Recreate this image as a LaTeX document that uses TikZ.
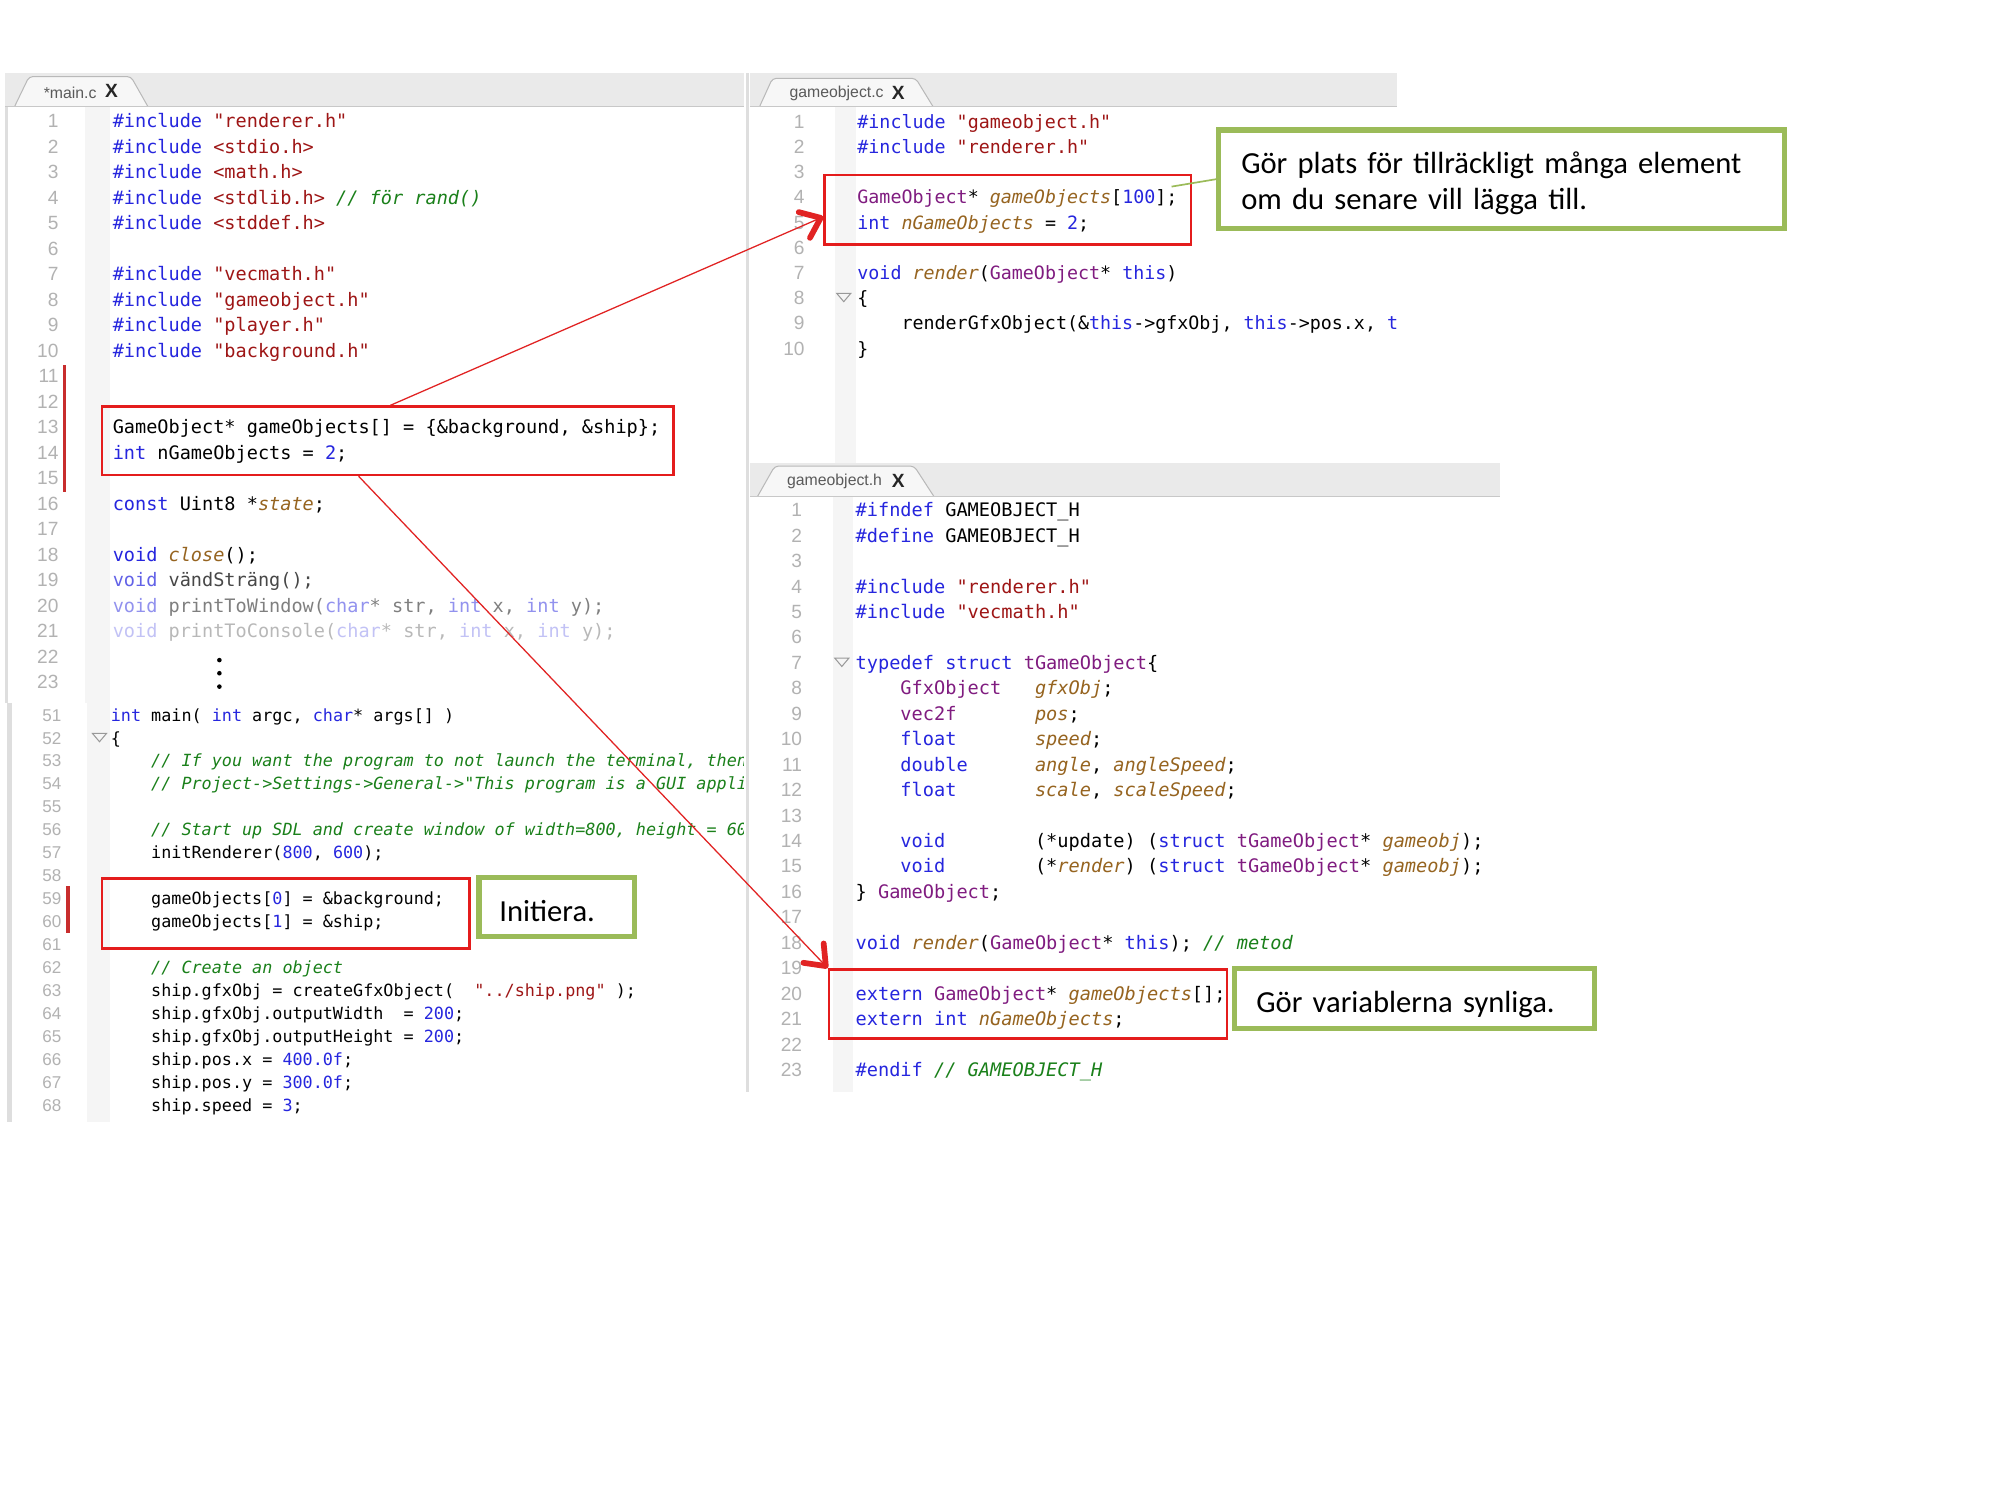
\documentclass[tikz,border=0pt]{standalone}
\usepackage{fontspec}
\usepackage{tikz}
\usetikzlibrary{arrows.meta}

\newfontfamily\codefont{DejaVu Sans Mono}
\newfontfamily\tabfont{Liberation Sans}
\newfontfamily\notefont{Carlito}
\frenchspacing

\definecolor{kwblue}{RGB}{38,38,222}
\definecolor{strred}{RGB}{158,22,22}
\definecolor{comgreen}{RGB}{26,128,26}
\definecolor{typpurple}{RGB}{128,28,128}
\definecolor{varbrown}{RGB}{150,100,32}
\definecolor{lnumgray}{RGB}{178,178,178}
\definecolor{barfill}{RGB}{234,234,234}
\definecolor{barline}{RGB}{200,200,200}
\definecolor{tabfill}{RGB}{247,247,247}
\definecolor{tabline}{RGB}{185,185,185}
\definecolor{tabgray}{RGB}{90,90,90}
\definecolor{gutterfill}{RGB}{245,245,245}
\definecolor{panelline}{RGB}{222,222,222}
\definecolor{boxred}{RGB}{228,28,28}
\definecolor{arrowred}{RGB}{225,35,35}
\definecolor{notegreen}{RGB}{155,187,89}
\definecolor{changered}{RGB}{200,45,45}

% syntax colours
\newcommand{\ckw}[1]{\textcolor{kwblue}{#1}}
\newcommand{\cstr}[1]{\textcolor{strred}{#1}}
\newcommand{\ccom}[1]{\textcolor{comgreen}{\itshape #1}}
\newcommand{\ctyp}[1]{\textcolor{typpurple}{#1}}
\newcommand{\cvar}[1]{\textcolor{varbrown}{\itshape #1}}

\begin{document}
\begin{tikzpicture}[x=1pt, y=-1pt,
    codeA/.style={anchor=base west, inner sep=0pt, font=\codefont\fontsize{14.55}{16}\selectfont},
    codeB/.style={anchor=base west, inner sep=0pt, font=\codefont\fontsize{13.15}{15}\selectfont},
    codeC/.style={anchor=base west, inner sep=0pt, font=\codefont\fontsize{14.37}{16}\selectfont},
    codeD/.style={anchor=base west, inner sep=0pt, font=\codefont\fontsize{14.6}{16}\selectfont},
    lnum/.style={anchor=base east, inner sep=0pt, text=lnumgray, font=\tabfont\fontsize{15}{16}\selectfont},
    lnumsmall/.style={lnum, font=\tabfont\fontsize{13.4}{15}\selectfont},
    tabshape/.style={fill=tabfill, draw=tabline, line width=0.8, rounded corners=3},
    tablabel/.style={inner sep=0pt, text=tabgray, font=\tabfont\fontsize{12.4}{14}\selectfont},
    tabclose/.style={inner sep=0pt, text=black!85, font=\tabfont\bfseries\fontsize{15}{15}\selectfont},
    foldmark/.style={draw=black!40, line width=0.8},
    redbox/.style={draw=boxred, line width=2, inner sep=0pt},
    notebox/.style={draw=notegreen, line width=4, fill=white, inner xsep=16, align=left,
                    font=\notefont\fontsize{24}{28.7}\selectfont},
    noteline/.style={draw=notegreen, line width=1.3},
    redarrow/.style={draw=arrowred, line width=1,
                     -{Straight Barb[length=14pt, width=22pt, line width=4.5pt, round]}}]

\useasboundingbox[fill=white] (0,0) rectangle (1568,1176);

% editor frames
\fill[barfill] (4,57.5) rectangle (583,83.6);
\fill[barfill] (588,57.5) rectangle (1095.3,83.6);
\fill[barfill] (588,363.3) rectangle (1176,389.4);
\fill[gutterfill] (67,83.6) rectangle (86,551);
\fill[gutterfill] (68,551) rectangle (86,879.4);
\fill[gutterfill] (655,83.6) rectangle (671,363.3);
\fill[gutterfill] (653,389.4) rectangle (669,856);
\draw[panelline, line width=2.6] (5.3,83.6) -- (5.3,551);
\draw[panelline, line width=3.4] (7.4,551) -- (7.4,879.4);
\draw[panelline, line width=2.5] (586,57.5) -- (586,856);

% tabs
\draw[tabshape] (11.4,83.6) -- (22.8,60) -- (102.6,60) -- (116,83.6);
\draw[tabshape] (595.5,83.6) -- (605.6,61.4) -- (717.9,61.4) -- (731.5,83.6);
\draw[tabshape] (593.8,389.4) -- (607.4,365.4) -- (716.7,365.4) -- (732.3,389.4);
\draw[barline, line width=1] (4,83.6) -- (583,83.6);
\draw[barline, line width=1] (588,83.6) -- (1095.3,83.6);
\draw[barline, line width=1] (588,389.4) -- (1176,389.4);
\node[tablabel] (tabMain) at (55,72.5) {*main.c};
\node[tabclose] (xMain) at (87.4,71.5) {X};
\node[tablabel] (tabObjC) at (655.9,73.2) {gameobject.c};
\node[tabclose] (xObjC) at (704.3,72.5) {X};
\node[tablabel] (tabObjH) at (654.3,377.6) {gameobject.h};
\node[tabclose] (xObjH) at (704.2,377) {X};

% line numbers
\foreach \n in {1,...,23}
    \node[lnum] (mn\n) at (46,{100.1+20*(\n-1)}) {\n};
\foreach \n in {51,...,68}
    \node[lnumsmall] (mn\n) at (48.4,{565.3+18*(\n-51)}) {\n};
\foreach \n in {1,...,10}
    \node[lnum] (cn\n) at (631,{100.6+19.75*(\n-1)}) {\n};
\foreach \n in {1,...,23}
    \node[lnum] (hn\n) at (629,{405.1+19.95*(\n-1)}) {\n};

% change bars and fold marks
\fill[changered] (49.2,286) rectangle (51.8,385.5);
\fill[changered] (52,695) rectangle (54.6,731.7);
\draw[foldmark] (72.5,575) -- (83.5,575) -- (78,581.5) -- cycle;
\draw[foldmark] (656,230) -- (667,230) -- (661.5,236.5) -- cycle;
\draw[foldmark] (654.5,516) -- (665.5,516) -- (660,522.5) -- cycle;

% main.c, top
\node[codeA] (m1) at (88.2,100.1) {\ckw{\#include} \cstr{"renderer.h"}};
\node[codeA] (m2) at (88.2,120.1) {\ckw{\#include} \cstr{<stdio.h>}};
\node[codeA] (m3) at (88.2,140.1) {\ckw{\#include} \cstr{<math.h>}};
\node[codeA] (m4) at (88.2,160.1) {\ckw{\#include} \cstr{<stdlib.h>} \ccom{// för rand()}};
\node[codeA] (m5) at (88.2,180.1) {\ckw{\#include} \cstr{<stddef.h>}};
\node[codeA] (m7) at (88.2,220.1) {\ckw{\#include} \cstr{"vecmath.h"}};
\node[codeA] (m8) at (88.2,240.1) {\ckw{\#include} \cstr{"gameobject.h"}};
\node[codeA] (m9) at (88.2,260.1) {\ckw{\#include} \cstr{"player.h"}};
\node[codeA] (m10) at (88.2,280.1) {\ckw{\#include} \cstr{"background.h"}};
\node[codeA] (m13) at (88.2,340.1) {GameObject* gameObjects[] = \{\&background, \&ship\};};
\node[codeA] (m14) at (88.2,360.1) {\ckw{int} nGameObjects = \ckw{2};};
\node[codeA] (m16) at (88.2,400.1) {\ckw{const} Uint8 *\cvar{state};};
\node[codeA] (m18) at (88.2,440.1) {\ckw{void} \cvar{close}();};
\node[codeA, text opacity=0.72] (m19) at (88.2,460.1) {\ckw{void} vändSträng();};
\node[codeA, text opacity=0.5] (m20) at (88.2,480.1) {\ckw{void} printToWindow(\ckw{char}* str, \ckw{int} x, \ckw{int} y);};
\node[codeA, text opacity=0.28] (m21) at (88.2,500.1) {\ckw{void} printToConsole(\ckw{char}* str, \ckw{int} x, \ckw{int} y);};
\foreach \d in {517.5,527.8,538.3}
    \fill (172,\d) circle (1.8);

% main.c, main()
\begin{scope}
\clip (0,540) rectangle (583,900);
\node[codeB] (m51) at (86.7,565.3) {\ckw{int} main( \ckw{int} argc, \ckw{char}* args[] )};
\node[codeB] (m52) at (86.7,583.3) {\{};
\node[codeB] (m53) at (86.7,601.3) {~~~~\ccom{// If you want the program to not launch the terminal, then}};
\node[codeB] (m54) at (86.7,619.3) {~~~~\ccom{// Project->Settings->General->"This program is a GUI appli}};
\node[codeB] (m56) at (86.7,655.3) {~~~~\ccom{// Start up SDL and create window of width=800, height = 60}};
\node[codeB] (m57) at (86.7,673.3) {~~~~initRenderer(\ckw{800}, \ckw{600});};
\node[codeB] (m59) at (86.7,709.3) {~~~~gameObjects[\ckw{0}] = \&background;};
\node[codeB] (m60) at (86.7,727.3) {~~~~gameObjects[\ckw{1}] = \&ship;};
\node[codeB] (m62) at (86.7,763.3) {~~~~\ccom{// Create an object}};
\node[codeB] (m63) at (86.7,781.3) {~~~~ship.gfxObj = createGfxObject(~~\cstr{"../ship.png"} );};
\node[codeB] (m64) at (86.7,799.3) {~~~~ship.gfxObj.outputWidth~~= \ckw{200};};
\node[codeB] (m65) at (86.7,817.3) {~~~~ship.gfxObj.outputHeight = \ckw{200};};
\node[codeB] (m66) at (86.7,835.3) {~~~~ship.pos.x = \ckw{400.0f};};
\node[codeB] (m67) at (86.7,853.3) {~~~~ship.pos.y = \ckw{300.0f};};
\node[codeB] (m68) at (86.7,871.3) {~~~~ship.speed = \ckw{3};};
\end{scope}

% gameobject.c
\begin{scope}
\clip (588,83.6) rectangle (1095.3,363.3);
\node[codeC] (c1) at (672,100.6) {\ckw{\#include} \cstr{"gameobject.h"}};
\node[codeC] (c2) at (672,120.35) {\ckw{\#include} \cstr{"renderer.h"}};
\node[codeC] (c4) at (672,159.85) {\ctyp{GameObject}* \cvar{gameObjects}[\ckw{100}];};
\node[codeC] (c5) at (672,179.6) {\ckw{int} \cvar{nGameObjects} = \ckw{2};};
\node[codeC] (c7) at (672,219.1) {\ckw{void} \cvar{render}(\ctyp{GameObject}* \ckw{this})};
\node[codeC] (c8) at (672,238.85) {\{};
\node[codeC] (c9) at (672,258.6) {~~~~renderGfxObject(\&\ckw{this}->gfxObj, \ckw{this}->pos.x, \ckw{t}};
\node[codeC] (c10) at (672,278.35) {\}};
\end{scope}

% gameobject.h
\node[codeD] (h1) at (670.6,405.1) {\ckw{\#ifndef} GAMEOBJECT\_H};
\node[codeD] (h2) at (670.6,425.05) {\ckw{\#define} GAMEOBJECT\_H};
\node[codeD] (h4) at (670.6,464.95) {\ckw{\#include} \cstr{"renderer.h"}};
\node[codeD] (h5) at (670.6,484.9) {\ckw{\#include} \cstr{"vecmath.h"}};
\node[codeD] (h7) at (670.6,524.8) {\ckw{typedef struct} \ctyp{tGameObject}\{};
\node[codeD] (h8) at (670.6,544.75) {~~~~\ctyp{GfxObject}~~~\cvar{gfxObj};};
\node[codeD] (h9) at (670.6,564.7) {~~~~\ctyp{vec2f}~~~~~~~\cvar{pos};};
\node[codeD] (h10) at (670.6,584.65) {~~~~\ckw{float}~~~~~~~\cvar{speed};};
\node[codeD] (h11) at (670.6,604.6) {~~~~\ckw{double}~~~~~~\cvar{angle}, \cvar{angleSpeed};};
\node[codeD] (h12) at (670.6,624.55) {~~~~\ckw{float}~~~~~~~\cvar{scale}, \cvar{scaleSpeed};};
\node[codeD] (h14) at (670.6,664.45) {~~~~\ckw{void}~~~~~~~~(*update) (\ckw{struct} \ctyp{tGameObject}* \cvar{gameobj});};
\node[codeD] (h15) at (670.6,684.4) {~~~~\ckw{void}~~~~~~~~(*\cvar{render}) (\ckw{struct} \ctyp{tGameObject}* \cvar{gameobj});};
\node[codeD] (h16) at (670.6,704.35) {\} \ctyp{GameObject};};
\node[codeD] (h18) at (670.6,744.25) {\ckw{void} \cvar{render}(\ctyp{GameObject}* \ckw{this}); \ccom{// metod}};
\node[codeD] (h20) at (670.6,784.15) {\ckw{extern} \ctyp{GameObject}* \cvar{gameObjects}[];};
\node[codeD] (h21) at (670.6,804.1) {\ckw{extern int} \cvar{nGameObjects};};
\node[codeD] (h23) at (670.6,844) {\ckw{\#endif} \ccom{// GAMEOBJECT\_H}};

% highlights
\node[redbox, minimum width=448.4, minimum height=53.6] (hlA) at (304,345.6) {};
\node[redbox, minimum width=287.3, minimum height=54.4] (hlB) at (790.15,164.4) {};
\node[redbox, minimum width=311.8, minimum height=54] (hlC) at (805.9,787) {};
\node[redbox, minimum width=288.1, minimum height=54.9] (hlD) at (223.85,716.05) {};

% notes
\node[notebox, minimum width=443.1, minimum height=77.1, text width=408,
      text height=15, text depth=24.1] (noteA) at (1177.15,140.45)
    {Gör plats för tillräckligt många element\\om du senare vill lägga till.};
\node[notebox, minimum width=121.6, minimum height=46.3, text width=89.6,
      text height=22.5, text depth=0] (noteB) at (436.3,711.15) {Initiera.};
\node[notebox, minimum width=281.8, minimum height=47, text width=247.8,
      text height=22.5, text depth=0] (noteC) at (1108.9,782.7) {Gör variablerna synliga.};
\coordinate (noteTip) at (918.5,146.3);
\draw[noteline] (noteA.west) -- (noteTip);

% arrows
\draw[redarrow] ([xshift=2pt]hlA.north) -- ([yshift=-5.5pt]hlB.west);
\draw[redarrow] ([xshift=-22.8pt]hlA.south) -- (hlC.north west);

\end{tikzpicture}
\end{document}
